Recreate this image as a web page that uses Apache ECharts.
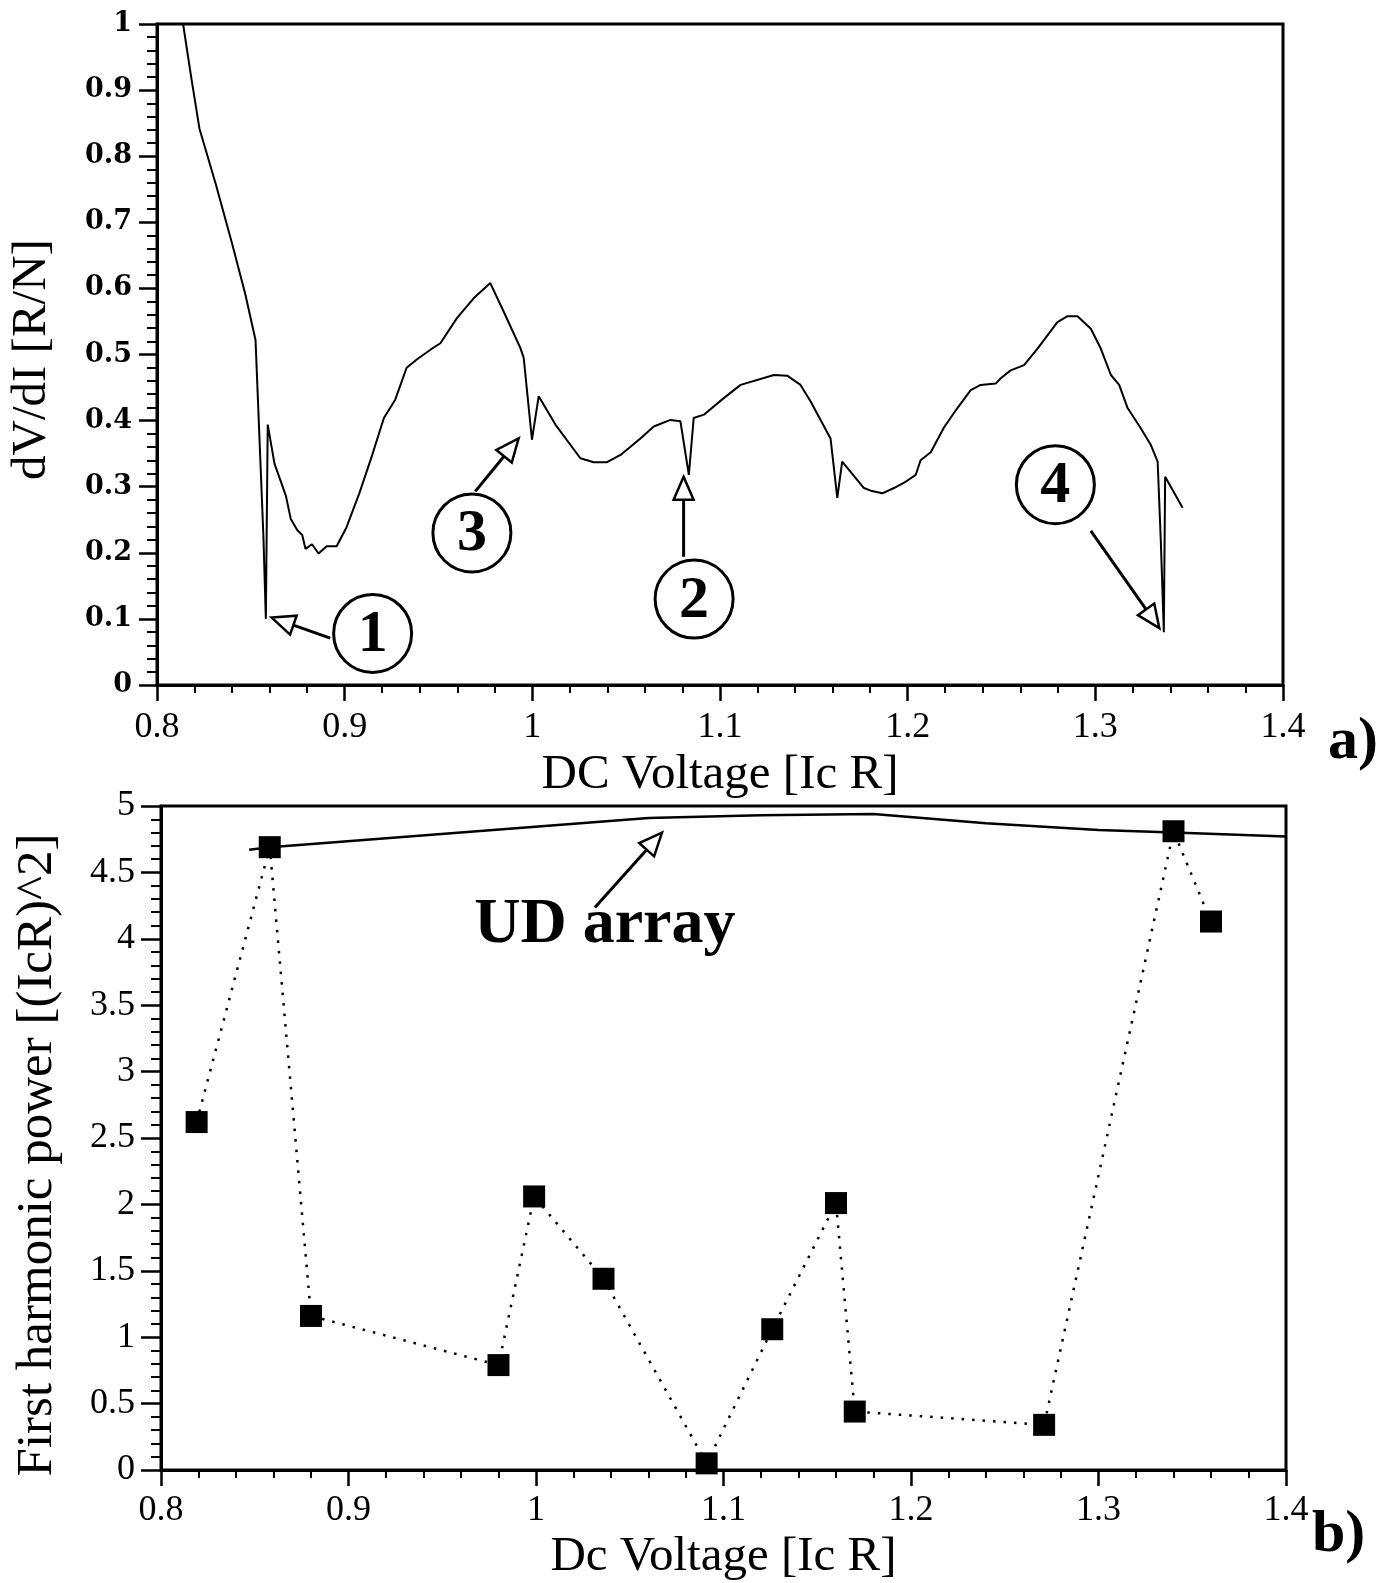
<!DOCTYPE html>
<html>
<head>
<meta charset="utf-8">
<script src="https://cdn.jsdelivr.net/npm/echarts@6/dist/echarts.min.js"></script>
<style>
  html, body { margin: 0; padding: 0; background: #fff; }
  #main { width: 1382px; height: 1583px; }
</style>
</head>
<body>
<div id="main"></div>
<script>
// panel a) : dV/dI trace
var voltA = [0.8139, 0.8183, 0.8226, 0.8313, 0.8400, 0.8470, 0.8525, 0.8567, 0.8580, 0.8590,
  0.8626, 0.8661, 0.8687, 0.8713, 0.8748, 0.8774, 0.8791, 0.8826, 0.8861, 0.8904,
  0.8957, 0.9009, 0.9078, 0.9148, 0.9209, 0.9270, 0.9330, 0.9391, 0.9461, 0.9510,
  0.9598, 0.9687, 0.9776, 0.9847, 0.9936, 0.9954, 0.9998, 1.0034, 1.0123, 1.0256,
  1.0327, 1.0398, 1.0470, 1.0576, 1.0647, 1.0736, 1.0789, 1.0834, 1.0860, 1.0914,
  1.1020, 1.1110, 1.1287, 1.1358, 1.1429, 1.1483, 1.1589, 1.1625, 1.1651, 1.1767,
  1.1803, 1.1865, 1.1927, 1.1981, 1.2043, 1.2069, 1.2123, 1.2194, 1.2265, 1.2336,
  1.2389, 1.2469, 1.2496, 1.2549, 1.2620, 1.2692, 1.2798, 1.2852, 1.2905, 1.2976,
  1.3029, 1.3083, 1.3127, 1.3172, 1.3243, 1.3296, 1.3332, 1.3349, 1.3365, 1.3372,
  1.3465];
var dvdi = [1.0, 0.918, 0.842, 0.758, 0.668, 0.592, 0.522, 0.225, 0.100, 0.394,
  0.335, 0.307, 0.286, 0.251, 0.234, 0.227, 0.206, 0.213, 0.199, 0.210,
  0.210, 0.238, 0.290, 0.349, 0.404, 0.432, 0.480, 0.494, 0.508, 0.517,
  0.555, 0.585, 0.608, 0.565, 0.510, 0.495, 0.371, 0.437, 0.394, 0.343,
  0.337, 0.337, 0.348, 0.373, 0.391, 0.401, 0.399, 0.318, 0.404, 0.409,
  0.434, 0.454, 0.469, 0.468, 0.454, 0.429, 0.373, 0.283, 0.338, 0.298,
  0.294, 0.290, 0.298, 0.306, 0.318, 0.340, 0.352, 0.390, 0.419, 0.446,
  0.454, 0.456, 0.464, 0.476, 0.484, 0.509, 0.549, 0.558, 0.558, 0.539,
  0.509, 0.469, 0.454, 0.419, 0.388, 0.363, 0.338, 0.217, 0.080, 0.315,
  0.268];

// panel b) : first harmonic power (squares) and UD array curve
var voltB = [0.819, 0.858, 0.880, 0.980, 0.999, 1.036, 1.091, 1.126, 1.160, 1.170, 1.271, 1.340, 1.360];
var power = [2.62, 4.69, 1.16, 0.79, 2.06, 1.44, 0.05, 1.06, 2.01, 0.44, 0.34, 4.81, 4.13];
var udVolt = [0.847, 0.858, 1.06, 1.12, 1.18, 1.24, 1.30, 1.34, 1.40];
var udPower = [4.67, 4.69, 4.91, 4.93, 4.94, 4.87, 4.82, 4.80, 4.77];

// annotations (data coordinates)
var callouts = [
  { grid: 0, text: '1', circle: [0.9149, 0.078], tail: [0.8923, 0.071], tip: [0.8611, 0.102] },
  { grid: 0, text: '3', circle: [0.9678, 0.230], tail: [0.9696, 0.293], tip: [0.9927, 0.373] },
  { grid: 0, text: '2', circle: [1.0862, 0.130], tail: [1.0806, 0.194], tip: [1.0806, 0.315] },
  { grid: 0, text: '4', circle: [1.2787, 0.303], tail: [1.2976, 0.233], tip: [1.3341, 0.086] }
];
var udArrow = { tail: [1.0314, 4.235], tip: [1.0672, 4.80], label: [1.0367, 4.10] };

function pairs(xs, ys) {
  var out = [];
  for (var i = 0; i < xs.length; i++) out.push([xs[i], ys[i]]);
  return out;
}

var serif = '"Liberation Serif", "Times New Roman", serif';

function xAxisOf(grid, name, gap, labelMargin) {
  return {
    gridIndex: grid, type: 'value', min: 0.8, max: 1.4, interval: 0.1,
    name: name, nameLocation: 'middle', nameGap: gap,
    nameTextStyle: { fontFamily: serif, fontSize: 49, color: '#000' },
    axisLine: { lineStyle: { color: '#000', width: 3 } },
    axisTick: { length: 16, lineStyle: { color: '#000', width: 2.5 } },
    minorTick: { show: true, splitNumber: 5, length: 8, lineStyle: { color: '#000', width: 2 } },
    axisLabel: { margin: labelMargin, fontFamily: serif, fontSize: 36, color: '#000' },
    splitLine: { show: false }
  };
}

var option = {
  animation: false,
  backgroundColor: '#fff',
  grid: [
    { left: 157, top: 24, width: 1126, height: 661, show: true, borderColor: '#000', borderWidth: 3 },
    { left: 161, top: 806, width: 1125, height: 664, show: true, borderColor: '#000', borderWidth: 3 }
  ],
  xAxis: [
    xAxisOf(0, 'DC Voltage [Ic R]', 66, 25),
    xAxisOf(1, 'Dc Voltage [Ic R]', 63, 23)
  ],
  yAxis: [
    {
      gridIndex: 0, type: 'value', min: 0, max: 1, interval: 0.1,
      name: 'dV/dI [R/N]', nameLocation: 'middle', nameGap: 100,
      nameTextStyle: { fontFamily: serif, fontSize: 49, color: '#000', padding: [0, 10, 0, 0] },
      axisLine: { lineStyle: { color: '#000', width: 3 } },
      axisTick: { length: 18, lineStyle: { color: '#000', width: 2.5 } },
      minorTick: { show: true, splitNumber: 5, length: 10, lineStyle: { color: '#000', width: 2 } },
      axisLabel: { margin: 25, fontFamily: '"DejaVu Serif", serif', fontWeight: 'bold', fontSize: 27, color: '#000' },
      splitLine: { show: false }
    },
    {
      gridIndex: 1, type: 'value', min: 0, max: 5, interval: 0.5,
      name: 'First harmonic power [(IcR)^2]', nameLocation: 'middle', nameGap: 98,
      nameTextStyle: { fontFamily: serif, fontSize: 51, color: '#000', padding: [0, 34, 0, 0] },
      axisLine: { lineStyle: { color: '#000', width: 3 } },
      axisTick: { length: 20, lineStyle: { color: '#000', width: 2.5 } },
      minorTick: { show: true, splitNumber: 5, length: 10, lineStyle: { color: '#000', width: 2 } },
      axisLabel: { margin: 26, fontFamily: serif, fontSize: 36, color: '#000' },
      splitLine: { show: false }
    }
  ],
  series: [
    {
      name: 'dV/dI', type: 'line', xAxisIndex: 0, yAxisIndex: 0,
      data: pairs(voltA, dvdi), showSymbol: false, symbol: 'none',
      lineStyle: { color: '#000', width: 2 }
    },
    {
      name: 'UD array', type: 'line', xAxisIndex: 1, yAxisIndex: 1,
      data: pairs(udVolt, udPower), symbol: 'none', z: 2,
      lineStyle: { color: '#000', width: 2.5 }
    },
    {
      name: 'First harmonic power', type: 'line', xAxisIndex: 1, yAxisIndex: 1,
      data: pairs(voltB, power), symbol: 'rect', symbolSize: 22, z: 3,
      itemStyle: { color: '#000' },
      lineStyle: { color: '#000', width: 2.5, type: [2.5, 8] }
    }
  ]
};

var chart = echarts.init(document.getElementById('main'));
chart.setOption(option);

// hollow-headed arrows, circled numbers and panel letters
function arrow(tailPx, tipPx) {
  var dx = tipPx[0] - tailPx[0], dy = tipPx[1] - tailPx[1];
  var d = Math.sqrt(dx * dx + dy * dy), ux = dx / d, uy = dy / d;
  var len = 23, half = 10;
  var bx = tipPx[0] - ux * len, by = tipPx[1] - uy * len;
  return [
    { type: 'line', shape: { x1: tailPx[0], y1: tailPx[1], x2: bx, y2: by },
      style: { stroke: '#000', lineWidth: 3 }, z: 10 },
    { type: 'polygon',
      shape: { points: [[tipPx[0], tipPx[1]], [bx - uy * half, by + ux * half], [bx + uy * half, by - ux * half]] },
      style: { fill: '#fff', stroke: '#000', lineWidth: 2.5 }, z: 10 }
  ];
}

var els = [];
callouts.forEach(function (c) {
  var g = { gridIndex: c.grid };
  var cp = chart.convertToPixel(g, c.circle);
  els.push({ type: 'circle', shape: { cx: cp[0], cy: cp[1], r: 39 },
    style: { fill: '#fff', stroke: '#000', lineWidth: 3 }, z: 10 });
  els.push({ type: 'text', x: cp[0], y: cp[1] + 2, z: 11,
    style: { text: c.text, font: 'bold 60px ' + serif, fill: '#000', align: 'center', verticalAlign: 'middle' } });
  els = els.concat(arrow(chart.convertToPixel(g, c.tail), chart.convertToPixel(g, c.tip)));
});
els = els.concat(arrow(chart.convertToPixel({ gridIndex: 1 }, udArrow.tail), chart.convertToPixel({ gridIndex: 1 }, udArrow.tip)));
var lp = chart.convertToPixel({ gridIndex: 1 }, udArrow.label);
els.push({ type: 'text', x: lp[0], y: lp[1], z: 11,
  style: { text: 'UD array', font: 'bold 64px ' + serif, fill: '#000', align: 'center', verticalAlign: 'middle' } });
els.push({ type: 'text', x: 1328, y: 742, z: 11,
  style: { text: 'a)', font: 'bold 60px ' + serif, fill: '#000', align: 'left', verticalAlign: 'middle' } });
els.push({ type: 'text', x: 1312, y: 1535, z: 11,
  style: { text: 'b)', font: 'bold 60px ' + serif, fill: '#000', align: 'left', verticalAlign: 'middle' } });

chart.setOption({ graphic: { elements: els } });
</script>
</body>
</html>
